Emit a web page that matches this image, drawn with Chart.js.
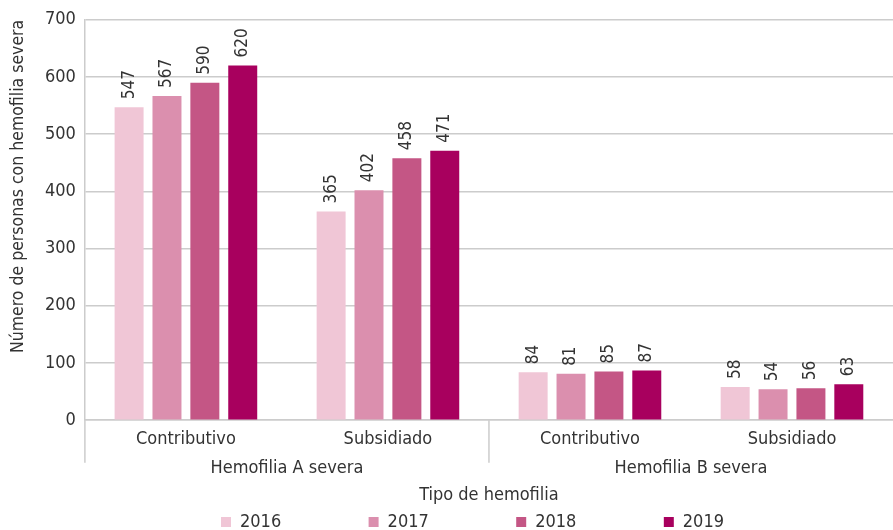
<!DOCTYPE html>
<html>
<head>
<meta charset="utf-8">
<script src="https://cdn.jsdelivr.net/npm/chart.js@4/dist/chart.umd.min.js"></script>
<style>
  html, body { margin: 0; padding: 0; background: #fff; }
  #wrap { width: 893px; height: 530px; }
</style>
</head>
<body>
<div id="wrap"><canvas id="grafico"></canvas></div>
<script>
const categorias = ['Contributivo', 'Subsidiado', 'Contributivo', 'Subsidiado'];
const grupos = ['Hemofilia A severa', 'Hemofilia B severa'];
const anios = ['2016', '2017', '2018', '2019'];
const colores = ['#f0c6d6', '#db8fae', '#c45685', '#a8005e'];

const v2016 = [547, 365, 84, 58];
const v2017 = [567, 402, 81, 54];
const v2018 = [590, 458, 85, 56];
const v2019 = [620, 471, 87, 63];

const FUENTE = '"Liberation Sans Narrow", "DejaVu Sans Condensed", "Roboto", sans-serif';
const TAM = 18;
const GRIS = '#cccccc';
const TEXTO = '#333333';

// etiquetas giradas sobre cada barra
const etiquetas = {
    id: 'etiquetas',
    afterDatasetsDraw(chart) {
        const ctx = chart.ctx;
        ctx.save();
        ctx.font = '17px ' + FUENTE;
        ctx.fillStyle = TEXTO;
        ctx.textAlign = 'left';
        ctx.textBaseline = 'middle';
        chart.data.datasets.forEach((ds, i) => {
            chart.getDatasetMeta(i).data.forEach((bar, j) => {
                ctx.save();
                ctx.translate(bar.x, bar.y - 8);
                ctx.rotate(-Math.PI / 2);
                ctx.fillText(ds.data[j], 0, 0);
                ctx.restore();
            });
        });
        ctx.restore();
    }
};

// separadores verticales entre grupos + ajuste de la leyenda
const separadores = {
    id: 'separadores',
    afterLayout(chart) {
        const lg = chart.legend;
        lg.left += 22;
        lg.right += 22;
        lg.top += 7;
        lg.bottom += 7;
    },
    afterDraw(chart) {
        const x = chart.scales.x;
        const ctx = chart.ctx;
        const medio = (x.getPixelForValue(1) + x.getPixelForValue(2)) / 2;
        ctx.save();
        ctx.strokeStyle = GRIS;
        ctx.lineWidth = 1.5;
        [chart.chartArea.left, medio].forEach(px => {
            ctx.beginPath();
            ctx.moveTo(px, x.top);
            ctx.lineTo(px, x.bottom + 5);
            ctx.stroke();
        });
        ctx.restore();
    }
};

const series = [v2016, v2017, v2018, v2019];

// espacio amplio entre los años de la leyenda
function etiquetasLeyenda(chart) {
    const base = Chart.defaults.plugins.legend.labels.generateLabels(chart);
    const ctx = chart.ctx;
    ctx.save();
    ctx.font = TAM + 'px ' + FUENTE;
    base.forEach((it, i) => {
        if (i === base.length - 1) return;
        let t = it.text;
        const meta = 147 - 10 - TAM / 2 + 3;
        while (ctx.measureText(t + ' ').width <= meta) t += ' ';
        it.text = t;
    });
    ctx.restore();
    return base;
}

new Chart(document.getElementById('grafico'), {
    type: 'bar',
    data: {
        labels: categorias,
        datasets: anios.map((a, i) => ({
            label: a,
            data: series[i],
            backgroundColor: colores[i],
            borderWidth: 0,
            categoryPercentage: 0.75,
            barPercentage: 0.765
        }))
    },
    options: {
        responsive: true,
        maintainAspectRatio: false,
        animation: false,
        layout: { padding: { top: 15, right: 0, left: 8, bottom: -4 } },
        plugins: {
            legend: {
                position: 'bottom',
                labels: {
                    font: { family: FUENTE, size: TAM },
                    color: TEXTO,
                    boxWidth: 10,
                    boxHeight: 10,
                    padding: 0,
                    generateLabels: etiquetasLeyenda
                }
            },
            tooltip: { enabled: false }
        },
        scales: {
            x: {
                grid: { display: false, drawTicks: false },
                border: { color: GRIS, width: 1.5 },
                ticks: { font: { family: FUENTE, size: TAM }, color: TEXTO, padding: 8 }
            },
            x2: {
                type: 'category',
                position: 'bottom',
                labels: grupos,
                offset: true,
                grid: { display: false, drawTicks: false },
                border: { display: false },
                ticks: { font: { family: FUENTE, size: TAM }, color: TEXTO, padding: 0 },
                title: {
                    display: true,
                    text: 'Tipo de hemofilia',
                    font: { family: FUENTE, size: TAM },
                    color: TEXTO,
                    padding: { top: 5, bottom: 0 }
                }
            },
            y: {
                min: 0,
                max: 700,
                ticks: { stepSize: 100, font: { family: FUENTE, size: TAM }, color: TEXTO, padding: 9 },
                grid: { color: GRIS, lineWidth: 1.5, drawTicks: false },
                border: { color: GRIS, width: 1.5 },
                title: {
                    display: true,
                    text: 'Número de personas con hemofilia severa',
                    align: 'end',
                    font: { family: FUENTE, size: 17.5 },
                    color: TEXTO,
                    padding: { top: 0, bottom: 7 }
                }
            }
        }
    },
    plugins: [etiquetas, separadores]
});
</script>
</body>
</html>
